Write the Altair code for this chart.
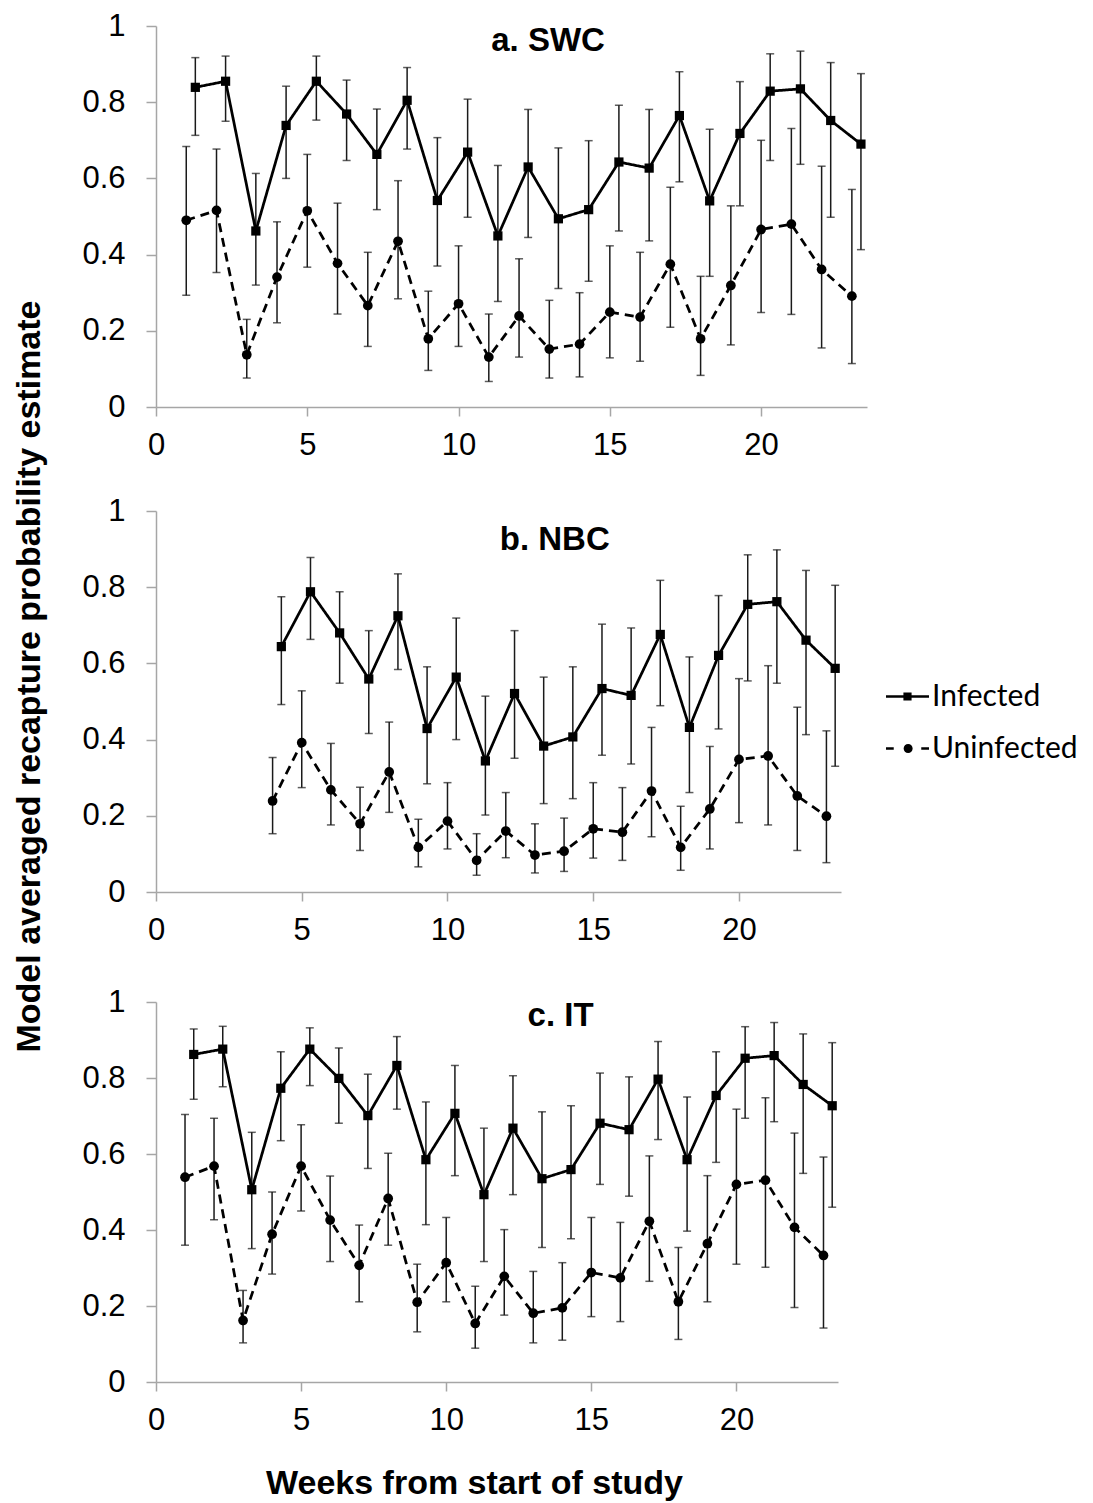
import altair as alt
import pandas as pd

# ---------------- data ----------------
WEEKS_A = list(range(1, 24))
WEEKS_B = list(range(4, 24))
WEEKS_C = list(range(1, 24))
INF_OFFSET = 0.3  # infected series plotted slightly to the right of the week

# a. SWC
inf_a = [0.839, 0.855, 0.462, 0.739, 0.855, 0.769, 0.663, 0.805, 0.542, 0.669, 0.449, 0.630,
         0.494, 0.518, 0.643, 0.627, 0.765, 0.541, 0.718, 0.829, 0.835, 0.752, 0.690]
inf_a_hi = [0.917, 0.921, 0.613, 0.842, 0.921, 0.858, 0.782, 0.891, 0.707, 0.808, 0.634, 0.781,
            0.680, 0.699, 0.792, 0.781, 0.880, 0.729, 0.854, 0.927, 0.934, 0.904, 0.875]
inf_a_lo = [0.713, 0.750, 0.320, 0.600, 0.753, 0.647, 0.518, 0.677, 0.370, 0.498, 0.277, 0.445,
            0.311, 0.330, 0.462, 0.436, 0.591, 0.343, 0.528, 0.647, 0.637, 0.498, 0.413]
unin_a = [0.490, 0.516, 0.137, 0.341, 0.515, 0.377, 0.266, 0.435, 0.179, 0.271, 0.131, 0.239,
          0.152, 0.165, 0.249, 0.236, 0.375, 0.179, 0.319, 0.466, 0.480, 0.361, 0.291]
unin_a_hi = [0.684, 0.677, 0.230, 0.486, 0.663, 0.535, 0.406, 0.594, 0.304, 0.423, 0.244, 0.389,
             0.280, 0.300, 0.423, 0.406, 0.577, 0.343, 0.528, 0.700, 0.731, 0.632, 0.571]
unin_a_lo = [0.293, 0.353, 0.076, 0.221, 0.367, 0.244, 0.159, 0.284, 0.096, 0.159, 0.067, 0.131,
             0.076, 0.079, 0.129, 0.120, 0.209, 0.083, 0.163, 0.248, 0.243, 0.155, 0.114]

# b. NBC
inf_b = [0.644, 0.788, 0.680, 0.559, 0.725, 0.429, 0.564, 0.344, 0.521, 0.383, 0.407, 0.534,
         0.516, 0.676, 0.432, 0.621, 0.755, 0.762, 0.661, 0.587]
inf_b_hi = [0.775, 0.878, 0.788, 0.686, 0.835, 0.591, 0.719, 0.514, 0.686, 0.564, 0.591, 0.703,
            0.693, 0.818, 0.617, 0.778, 0.885, 0.898, 0.844, 0.805]
inf_b_lo = [0.492, 0.663, 0.548, 0.416, 0.584, 0.284, 0.400, 0.202, 0.351, 0.232, 0.245, 0.359,
            0.336, 0.489, 0.261, 0.428, 0.554, 0.548, 0.413, 0.330]
unin_b = [0.239, 0.392, 0.268, 0.179, 0.315, 0.117, 0.186, 0.083, 0.160, 0.097, 0.107, 0.166,
          0.157, 0.265, 0.117, 0.218, 0.348, 0.357, 0.252, 0.199]
unin_b_hi = [0.353, 0.528, 0.390, 0.275, 0.446, 0.191, 0.287, 0.153, 0.261, 0.179, 0.194, 0.287,
             0.274, 0.432, 0.225, 0.382, 0.560, 0.594, 0.485, 0.423]
unin_b_lo = [0.153, 0.274, 0.176, 0.109, 0.209, 0.066, 0.113, 0.044, 0.090, 0.050, 0.054, 0.089,
             0.083, 0.145, 0.057, 0.113, 0.182, 0.176, 0.109, 0.077]

# c. IT
inf_c = [0.862, 0.876, 0.506, 0.773, 0.876, 0.799, 0.701, 0.833, 0.585, 0.707, 0.493, 0.668,
         0.535, 0.559, 0.681, 0.664, 0.797, 0.585, 0.754, 0.852, 0.859, 0.783, 0.727]
inf_c_hi = [0.929, 0.936, 0.657, 0.869, 0.932, 0.879, 0.810, 0.909, 0.737, 0.833, 0.668, 0.806,
            0.711, 0.727, 0.813, 0.803, 0.896, 0.750, 0.869, 0.935, 0.946, 0.916, 0.893]
inf_c_lo = [0.744, 0.777, 0.351, 0.635, 0.780, 0.681, 0.562, 0.718, 0.414, 0.543, 0.317, 0.493,
            0.354, 0.377, 0.520, 0.489, 0.638, 0.397, 0.578, 0.694, 0.685, 0.549, 0.460]
unin_c = [0.539, 0.568, 0.162, 0.389, 0.568, 0.426, 0.307, 0.483, 0.210, 0.314, 0.154, 0.278,
          0.181, 0.195, 0.288, 0.274, 0.423, 0.211, 0.364, 0.520, 0.531, 0.407, 0.333]
unin_c_hi = [0.704, 0.694, 0.241, 0.500, 0.677, 0.542, 0.413, 0.602, 0.310, 0.433, 0.252, 0.401,
             0.291, 0.314, 0.433, 0.420, 0.595, 0.354, 0.543, 0.718, 0.748, 0.655, 0.592]
unin_c_lo = [0.360, 0.427, 0.103, 0.284, 0.450, 0.317, 0.211, 0.360, 0.132, 0.211, 0.089, 0.176,
             0.103, 0.110, 0.172, 0.159, 0.265, 0.112, 0.211, 0.310, 0.302, 0.196, 0.142]

SERIES = ["Infected", "Uninfected"]
X_TICKS = [0, 5, 10, 15, 20]
Y_TICKS = [0, 0.2, 0.4, 0.6, 0.8, 1]

FONT = "Liberation Sans"
# legend glyphs (line + marker), drawn as filled outlines in the unit square
LEGEND_PATHS = [
    "M -1 -0.06 L 1 -0.06 L 1 0.06 L -1 0.06 Z "
    "M -0.19 -0.19 L 0.19 -0.19 L 0.19 0.19 L -0.19 0.19 Z",
    "M -1 -0.06 L -0.64 -0.06 L -0.64 0.06 L -1 0.06 Z "
    "M 0.64 -0.06 L 1 -0.06 L 1 0.06 L 0.64 0.06 Z "
    "M 0.24 0 A 0.21 0.21 0 1 1 -0.18 0 A 0.21 0.21 0 1 1 0.24 0 Z",
]


def series_df(weeks, est, lo, hi, offset, name):
    return pd.DataFrame({
        "x": [w + offset for w in weeks],
        "est": est, "lo": lo, "hi": hi, "series": name,
    })


def panel(weeks, inf, inf_lo, inf_hi, un, un_lo, un_hi, width, height,
          title, tx, ty, y_title=None, x_title=None, legend=None):
    inf_df = series_df(weeks, inf, inf_lo, inf_hi, INF_OFFSET, SERIES[0])
    un_df = series_df(weeks, un, un_lo, un_hi, 0.0, SERIES[1])

    xs = alt.Scale(domain=[0, 23.5], nice=False, zero=False)
    ys = alt.Scale(domain=[0, 1], nice=False)

    x_kw = dict(values=X_TICKS, grid=False, tickSize=9, labelPadding=14, labelFlush=False)
    if x_title:
        x_kw.update(title=x_title["text"], titleX=x_title["x"], titleY=x_title["y"],
                    titleBaseline="middle", titleAlign="center")
    else:
        x_kw.update(title=None)
    y_kw = dict(values=Y_TICKS, format=".1~f", grid=False, tickSize=10, labelPadding=21,
                labelFlush=False)
    if y_title:
        y_kw.update(title=y_title["text"], titleX=y_title["x"], titleY=y_title["y"],
                    titleBaseline="middle", titleAlign="center", titleAngle=270)
    else:
        y_kw.update(title=None)
    xa = alt.Axis(**x_kw)
    ya = alt.Axis(**y_kw)

    def X():
        return alt.X("x:Q", scale=xs, axis=xa)

    layers = []
    for df, dash, shape, size in [(un_df, [9, 6], "circle", 95), (inf_df, [1, 0], "square", 85)]:
        base = alt.Chart(df)
        rule = base.mark_rule(color="#1a1a1a", strokeWidth=1.5).encode(
            x=X(), y=alt.Y("lo:Q", scale=ys, axis=ya), y2="hi:Q")
        cap_lo = base.mark_tick(orient="horizontal", size=8, thickness=1.5, color="#1a1a1a").encode(
            x=X(), y=alt.Y("lo:Q", scale=ys, axis=ya))
        cap_hi = base.mark_tick(orient="horizontal", size=8, thickness=1.5, color="#1a1a1a").encode(
            x=X(), y=alt.Y("hi:Q", scale=ys, axis=ya))
        line = base.mark_line(color="black", strokeWidth=2.75, strokeDash=dash).encode(
            x=X(), y=alt.Y("est:Q", scale=ys, axis=ya))
        pts = base.mark_point(shape=shape, filled=True, size=size, color="black", opacity=1).encode(
            x=X(), y=alt.Y("est:Q", scale=ys, axis=ya))
        layers += [rule, cap_lo, cap_hi, line, pts]

    tdf = pd.DataFrame({"x": [tx], "y": [ty], "t": [title]})
    ttl = alt.Chart(tdf).mark_text(font=FONT, fontSize=33, fontWeight="bold", color="black",
                                   baseline="middle", align="center").encode(
        x=X(), y=alt.Y("y:Q", scale=ys, axis=ya), text="t:N")
    layers.append(ttl)

    if legend:
        both = pd.concat([inf_df, un_df])
        leg = alt.Chart(both).mark_point(opacity=0, filled=True, color="black").encode(
            x=X(), y=alt.Y("est:Q", scale=ys, axis=ya),
            shape=alt.Shape("series:N",
                            scale=alt.Scale(domain=SERIES, range=LEGEND_PATHS),
                            legend=alt.Legend(
                                title=None, orient="none",
                                legendX=legend["x"], legendY=legend["y"],
                                symbolSize=1849, symbolOpacity=1,
                                symbolFillColor="black", symbolStrokeWidth=0,
                                labelFont="Lato", labelFontSize=30, labelColor="black",
                                labelOffset=3, rowPadding=15, padding=0,
                            )))
        layers.append(leg)

    return alt.layer(*layers).properties(width=width, height=height)


pa = panel(WEEKS_A, inf_a, inf_a_lo, inf_a_hi, unin_a, unin_a_lo, unin_a_hi,
           711, 381, "a. SWC", 12.96, 0.961)
pb = panel(WEEKS_B, inf_b, inf_b_lo, inf_b_hi, unin_b, unin_b_lo, unin_b_hi,
           685, 381, "b. NBC", 13.68, 0.923,
           y_title={"text": "Model averaged recapture probability estimate", "x": -127, "y": 165},
           legend={"x": 730, "y": 164})
pc = panel(WEEKS_C, inf_c, inf_c_lo, inf_c_hi, unin_c, unin_c_lo, unin_c_hi,
           682, 380, "c. IT", 13.94, 0.963,
           x_title={"text": "Weeks from start of study", "x": 318, "y": 101})

lower = alt.vconcat(pb, pc, spacing=110, bounds="flush").resolve_legend(shape="independent")
chart = alt.vconcat(pa, lower, spacing=104, bounds="flush").resolve_legend(shape="independent")

chart = chart.properties(
    padding={"left": 11, "top": 10, "right": 5, "bottom": 5},
    background="white",
).configure_view(stroke=None).configure_axis(
    domainColor="#a6a6a6", tickColor="#a6a6a6", domainWidth=1.5, tickWidth=1.5,
    labelFont=FONT, labelFontSize=31, labelColor="black",
    titleFont=FONT, titleFontSize=34, titleFontWeight="bold", titleColor="black",
)

chart.save("out.html", embed_options={"renderer": "svg", "actions": False})
